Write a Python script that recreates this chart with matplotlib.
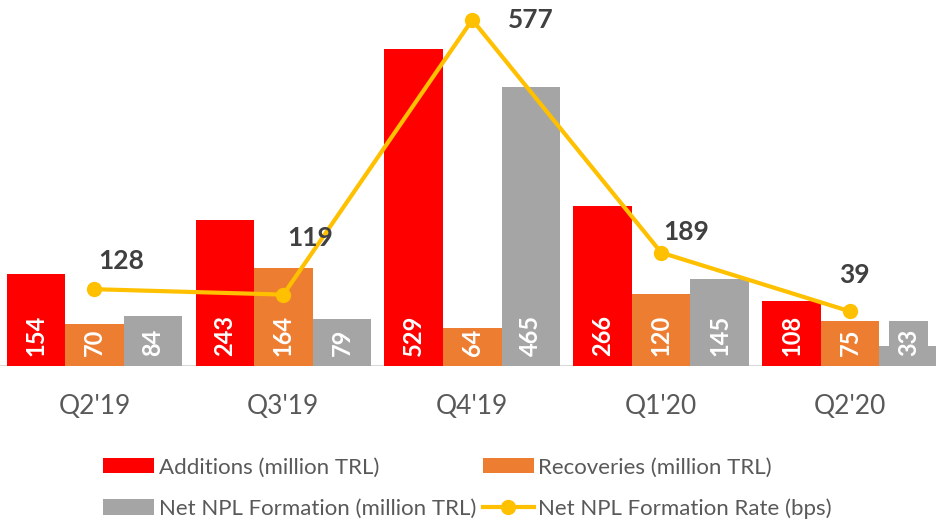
import numpy as np
import matplotlib.pyplot as plt

# datos
trimestres = ["Q2'19", "Q3'19", "Q4'19", "Q1'20", "Q2'20"]
adiciones = [154, 243, 529, 266, 108]
recuperaciones = [70, 164, 64, 120, 75]
neto_npl = [84, 79, 465, 145, 33]
tasa_npl = [128, 119, 577, 189, 39]
# altura a la que aparece cada punto de la linea en la imagen (el ultimo no cuadra con su etiqueta)
tasa_npl_pos = [128, 119, 577, 189, 91]

# desplazamiento de las etiquetas de la linea (puntos)
offs_linea = [(19, 20), (19, 41), (42, 0), (18, 15), (3, 26)]

plt.rcParams['font.family'] = ['Lato', 'DejaVu Sans']

fig = plt.figure(figsize=(9.37, 5.25), dpi=100)
ax = fig.add_axes([0, 1 - 366 / 525, 1, 366 / 525])

x = np.arange(len(trimestres))
w = 0.31
colores = ['#FF0000', '#ED7D31', '#A5A5A5']
series = [adiciones, recuperaciones, neto_npl]
nombres = ['Additions (million TRL)', 'Recoveries (million TRL)',
           'Net NPL Formation (million TRL)']

barras = []
for k, (vals, col, nom) in enumerate(zip(series, colores, nombres)):
    b = ax.bar(x + (k - 1) * w, vals, w, color=col, label=nom, zorder=2)
    barras.append(b)
    for xi, v in zip(x + (k - 1) * w, vals):
        caja = None
        if v < 40:
            caja = dict(facecolor=col, edgecolor='none', pad=6)
        ax.annotate(str(v), (xi, 0), xytext=(0, 7), textcoords='offset points',
                    rotation=90, ha='center', va='bottom', color='white',
                    fontsize=17, fontweight='bold', bbox=caja, zorder=3)

linea, = ax.plot(x, tasa_npl_pos, color='#FFC000', lw=3, marker='o', ms=10,
                 label='Net NPL Formation Rate (bps)', zorder=4)
for xi, v, t, off in zip(x, tasa_npl_pos, tasa_npl, offs_linea):
    ax.annotate(str(t), (xi, v), xytext=off, textcoords='offset points',
                ha='center', va='center', color='#404040', fontsize=19,
                fontweight='bold', zorder=5)

ax.axhline(0, color='#D9D9D9', lw=1.5, zorder=1)
ax.set_xlim(-0.5, 4.46)
ax.set_ylim(0, 610)
ax.set_yticks([])
ax.set_xticks(x)
ax.set_xticklabels(trimestres, fontsize=19, color='#595959')
ax.tick_params(axis='x', length=0, pad=20)
for s in ax.spines.values():
    s.set_visible(False)
ax.patch.set_visible(False)

handles = [barras[0], barras[2], barras[1], linea]
labels = [h.get_label() for h in handles]
fig.legend(handles, labels, ncol=2, loc='center', bbox_to_anchor=(0.499, 0.07),
           frameon=False, fontsize=16, labelcolor='#595959', handlelength=2.3,
           handleheight=0.7, handletextpad=0.2, columnspacing=0.3, labelspacing=0.95)

fig.savefig('out.png', dpi=100)
